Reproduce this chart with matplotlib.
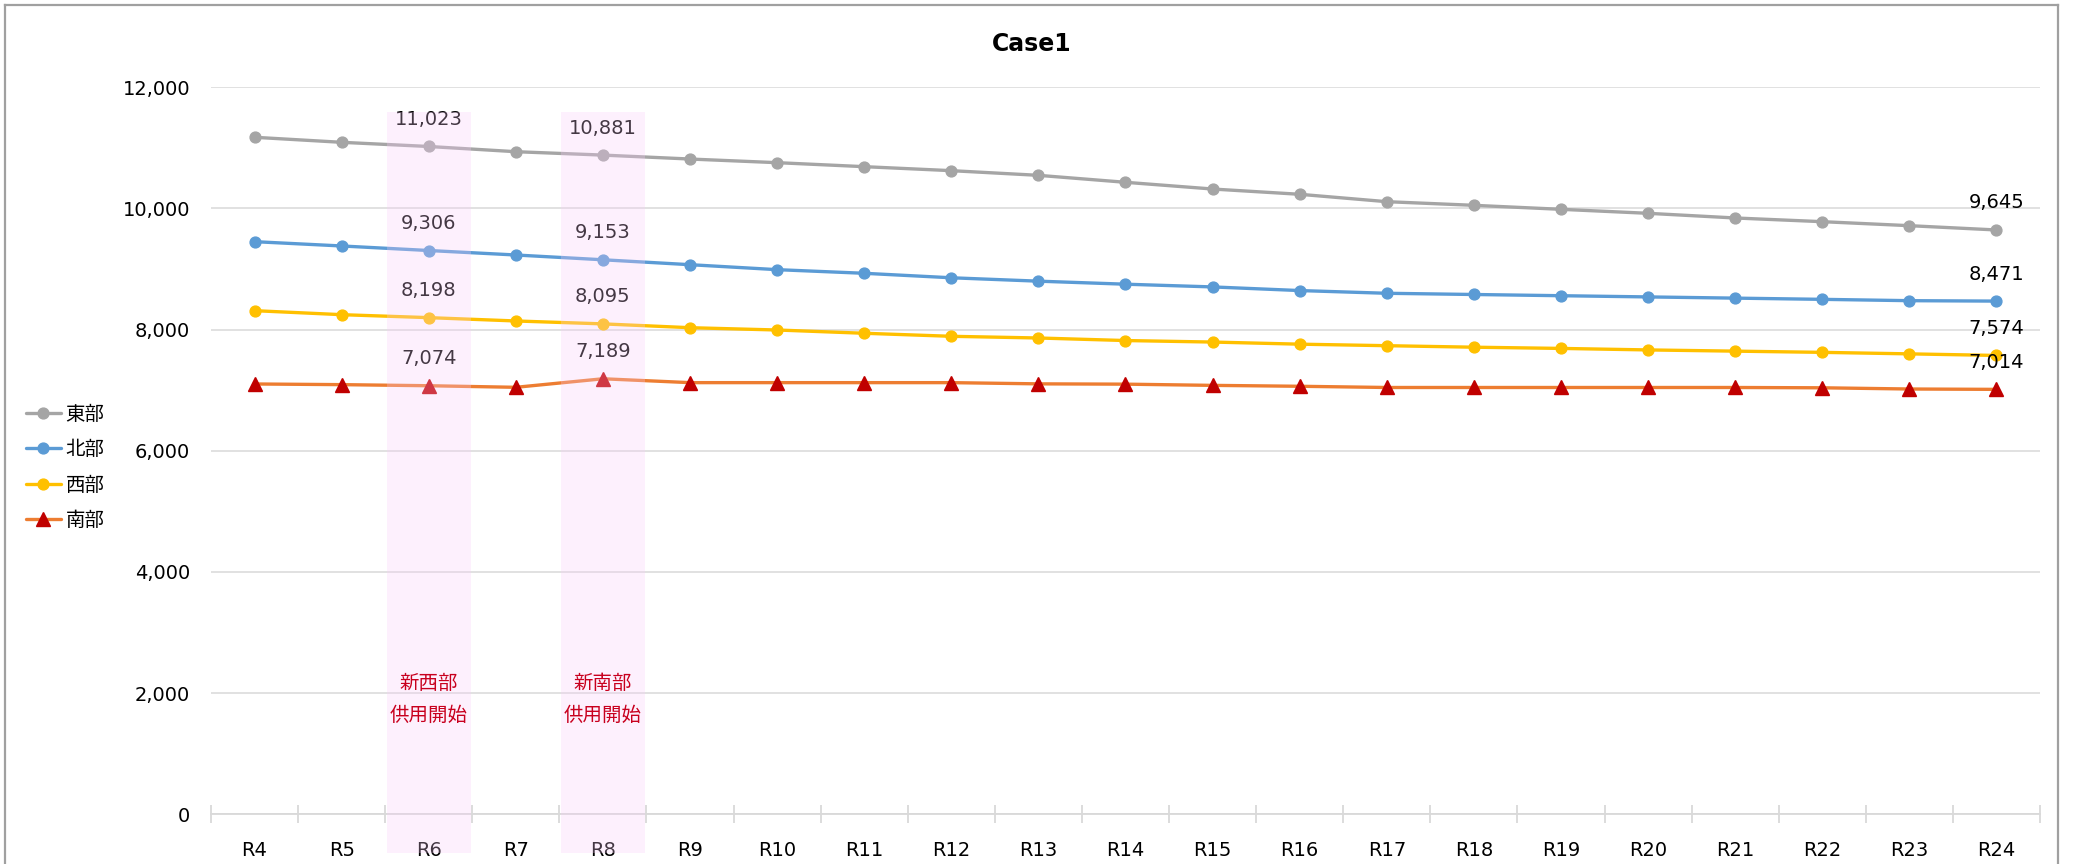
import matplotlib
matplotlib.use("Agg")
import matplotlib.pyplot as plt
from matplotlib.patches import Rectangle
from matplotlib.lines import Line2D
from matplotlib.ticker import FuncFormatter, FixedLocator
import matplotlib.transforms as mtransforms

plt.rcParams['font.family'] = ['DejaVu Sans', 'Noto Sans CJK JP']

# --- data ---------------------------------------------------------------
years = ["R4", "R5", "R6", "R7", "R8", "R9", "R10", "R11", "R12", "R13", "R14",
         "R15", "R16", "R17", "R18", "R19", "R20", "R21", "R22", "R23", "R24"]

east = [11175, 11092, 11023, 10937, 10881, 10816, 10756, 10690, 10624, 10547, 10432,
        10321, 10234, 10112, 10052, 9986, 9920, 9843, 9782, 9716, 9645]
north = [9452, 9381, 9306, 9232, 9153, 9072, 8990, 8930, 8856, 8800, 8750,
         8705, 8645, 8600, 8580, 8560, 8540, 8520, 8500, 8478, 8471]
west = [8313, 8247, 8198, 8143, 8095, 8032, 7994, 7940, 7890, 7862, 7820,
        7795, 7760, 7735, 7710, 7690, 7665, 7645, 7625, 7600, 7574]
south = [7103, 7092, 7074, 7048, 7189, 7125, 7125, 7125, 7125, 7105, 7100,
         7080, 7065, 7045, 7045, 7045, 7045, 7045, 7040, 7020, 7014]

series_names = ["東部", "北部", "西部", "南部"]
title = "Case1"

# highlighted years and their notes
highlight_idx = [2, 4]
highlight_notes = ["新西部\n供用開始", "新南部\n供用開始"]
note_y = 1895
# points whose values are written on the chart
labeled_idx = [2, 4]
end_idx = 20

# --- figure -------------------------------------------------------------
W, H, DPI = 2083, 864, 100
fig = plt.figure(figsize=(W / DPI, H / DPI), dpi=DPI)
fig.patch.set_facecolor("white")

ax_left, ax_right = 211 / W, 2040 / W
ax_bottom, ax_top = 1 - 814.3 / H, 1 - 87.3 / H
ax = fig.add_axes([ax_left, ax_bottom, ax_right - ax_left, ax_top - ax_bottom])

x = list(range(len(years)))
styles = [
    dict(color="#A5A5A5", marker="o", mfc="#A5A5A5", mec="#A5A5A5", ms=7.8),
    dict(color="#5B9BD5", marker="o", mfc="#5B9BD5", mec="#5B9BD5", ms=7.8),
    dict(color="#FFC000", marker="o", mfc="#FFC000", mec="#FFC000", ms=7.8),
    dict(color="#ED7D31", marker="^", mfc="#C00000", mec="#C00000", ms=9.5),
]
all_series = [east, north, west, south]
for vals, name, st in zip(all_series, series_names, styles):
    ax.plot(x, vals, lw=2.4, label=name, zorder=3, solid_capstyle="round", **st)

# value labels above points
for vals in all_series:
    for i in labeled_idx + [end_idx]:
        ax.annotate(f"{vals[i]:,}", (i, vals[i]), xytext=(0, 19.5),
                    textcoords="offset points", ha="center", va="center",
                    fontsize=14, color="black", zorder=5)

# axes styling
ax.set_xlim(-0.5, len(years) - 0.5)
ax.set_ylim(0, 12000)
ax.yaxis.set_major_locator(FixedLocator(range(0, 12001, 2000)))
ax.yaxis.set_major_formatter(FuncFormatter(lambda v, p: f"{int(v):,}"))
ax.grid(axis="y", color="#D9D9D9", lw=1.1)
ax.set_axisbelow(True)
for s in ["top", "right", "left"]:
    ax.spines[s].set_visible(False)
ax.spines["bottom"].set_color("#D9D9D9")
ax.spines["bottom"].set_linewidth(1.3)
ax.tick_params(axis="y", length=0, pad=15, labelsize=14, labelcolor="black")
ax.set_xticks(x)
ax.set_xticklabels(years)
ax.tick_params(axis="x", which="major", length=0, pad=19, labelsize=14, labelcolor="black")
ax.set_xticks([i - 0.5 for i in range(len(years) + 1)], minor=True)
ax.tick_params(axis="x", which="minor", length=13, direction="inout", color="#D9D9D9", width=1.3)

# highlight bands over the chart
blend = mtransforms.blended_transform_factory(ax.transData, ax.transAxes)
band_top = (814.3 - 111.7) / (814.3 - 87.3)
band_bot = (814.3 - 853) / (814.3 - 87.3)
for i, note in zip(highlight_idx, highlight_notes):
    ax.add_patch(Rectangle((i - 0.48, band_bot), 0.96, band_top - band_bot,
                           transform=blend, facecolor="#F8CCF8", alpha=0.28,
                           edgecolor="none", clip_on=False, zorder=10))
    ax.text(i, note_y, note, ha="center", va="center", fontsize=14,
            color="#C8001E", linespacing=1.7, zorder=11,
            family=["Noto Sans CJK JP", "DejaVu Sans"])

# legend on the left
leg = fig.legend(loc="center left", bbox_to_anchor=(0.004, 0.459),
                 bbox_transform=fig.transFigure, frameon=False,
                 prop={"family": ["Noto Sans CJK JP", "DejaVu Sans"], "size": 14},
                 handlelength=1.8, handletextpad=0.25, labelspacing=0.75)

# title
fig.text(1032 / W, 1 - 44 / H, title, ha="center", va="center",
         fontsize=17, fontweight="bold", color="black")

# chart frame
frame_kw = dict(color="#A0A0A0", lw=1.6, transform=fig.transFigure)
fig.add_artist(Line2D([5 / W, 5 / W], [0, 1 - 4.5 / H], **frame_kw))
fig.add_artist(Line2D([5 / W, 2057.7 / W], [1 - 4.5 / H, 1 - 4.5 / H], **frame_kw))
fig.add_artist(Line2D([2057.7 / W, 2057.7 / W], [0, 1 - 4.5 / H], **frame_kw))

fig.savefig("out.png", dpi=DPI)
